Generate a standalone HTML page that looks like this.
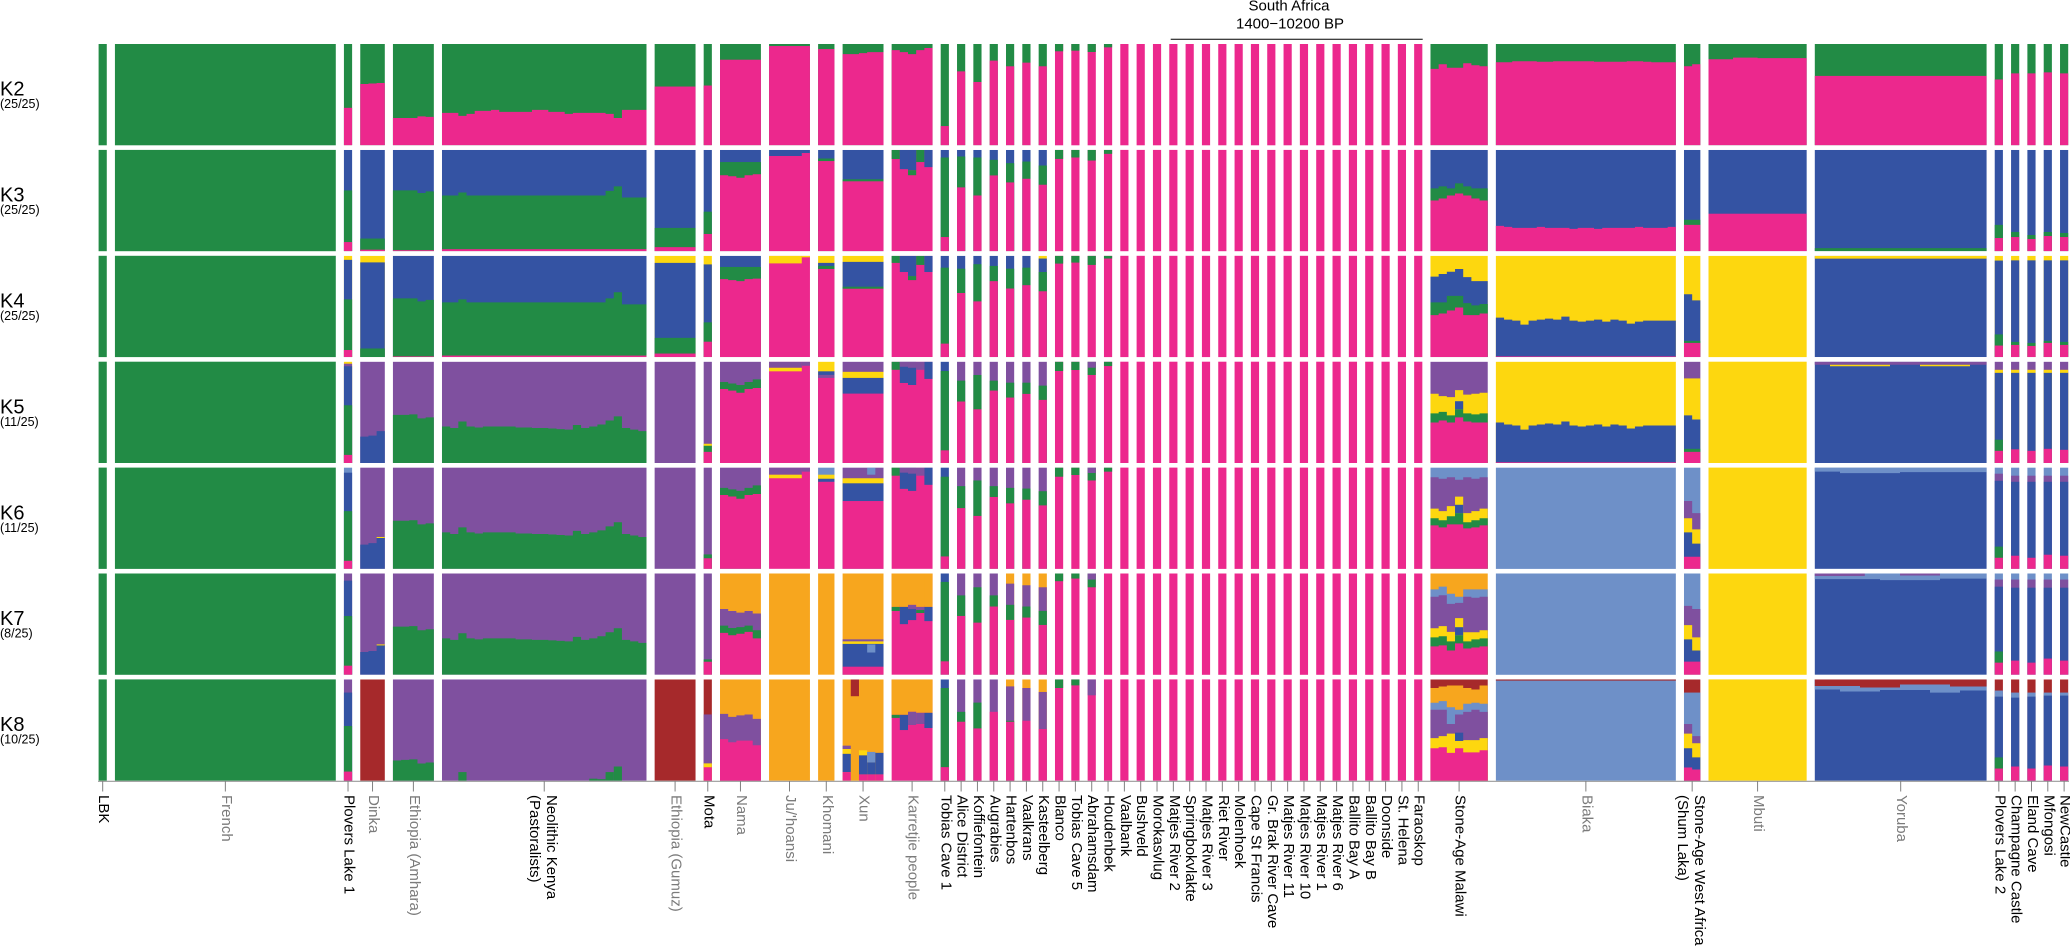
<!DOCTYPE html>
<html><head><meta charset="utf-8"><style>
html,body{margin:0;padding:0;background:#fff;}
svg{display:block;font-family:"Liberation Sans",Arial,sans-serif;}
.g{fill:#228B45}.p{fill:#EC288D}.b{fill:#3453A3}.y{fill:#FDD70F}.u{fill:#7F509F}.l{fill:#6E90C8}.o{fill:#F7A61E}.r{fill:#A6292B}
.k{fill:#000}.m{fill:#7b7b7b}
</style></head><body>
<svg width="2070" height="948" viewBox="0 0 2070 948" xmlns="http://www.w3.org/2000/svg">
<!-- tall uniform columns -->
<rect class="g" x="98.6" y="44" width="8.18" height="736.7"/>
<rect class="g" x="114.93" y="44" width="220.86" height="736.7"/>
<rect class="p" x="1054.98" y="44" width="8.18" height="736.7"/>
<rect class="p" x="1071.31" y="44" width="8.18" height="736.7"/>
<rect class="p" x="1087.63" y="44" width="8.18" height="736.7"/>
<rect class="p" x="1103.96" y="44" width="8.18" height="736.7"/>
<rect class="p" x="1120.29" y="44" width="8.18" height="736.7"/>
<rect class="p" x="1136.61" y="44" width="8.18" height="736.7"/>
<rect class="p" x="1152.94" y="44" width="8.18" height="736.7"/>
<rect class="p" x="1169.26" y="44" width="8.18" height="736.7"/>
<rect class="p" x="1185.59" y="44" width="8.18" height="736.7"/>
<rect class="p" x="1201.92" y="44" width="8.18" height="736.7"/>
<rect class="p" x="1218.24" y="44" width="8.18" height="736.7"/>
<rect class="p" x="1234.57" y="44" width="8.18" height="736.7"/>
<rect class="p" x="1250.89" y="44" width="8.18" height="736.7"/>
<rect class="p" x="1267.22" y="44" width="8.18" height="736.7"/>
<rect class="p" x="1283.55" y="44" width="8.18" height="736.7"/>
<rect class="p" x="1299.87" y="44" width="8.18" height="736.7"/>
<rect class="p" x="1316.2" y="44" width="8.18" height="736.7"/>
<rect class="p" x="1332.52" y="44" width="8.18" height="736.7"/>
<rect class="p" x="1348.85" y="44" width="8.18" height="736.7"/>
<rect class="p" x="1365.18" y="44" width="8.18" height="736.7"/>
<rect class="p" x="1381.5" y="44" width="8.18" height="736.7"/>
<rect class="p" x="1397.83" y="44" width="8.18" height="736.7"/>
<rect class="p" x="1414.15" y="44" width="8.18" height="736.7"/>
<rect class="y" x="1708.5" y="255.8" width="98.16" height="524.9"/>
<rect class="l" x="1495.88" y="467.6" width="179.96" height="313.1"/>

<!-- K2 -->
<g transform="translate(0,44) scale(1,1.013)">
<rect class="g" x="343.93" width="8.18" height="100"/><rect class="p" x="343.93" y="63" width="8.18" height="37"/>
<rect class="g" x="360.26" width="24.54" height="100"/><path class="p" d="M360.26 100V39.5H368.44V39H376.62V38.5H384.8V100Z"/>
<rect class="g" x="392.94" width="40.9" height="100"/><path class="p" d="M392.94 100V73H417.48V71.5H425.66V72H433.84V100Z"/>
<rect class="g" x="441.99" width="204.5" height="100"/><path class="p" d="M441.99 100V68H458.35V71H466.53V69H474.71V66H491.07V65H499.25V67H531.97V65H548.33V67H564.69V69H572.87V68H605.59V69H613.77V73H621.95V65H646.49V100Z"/>
<rect class="g" x="654.64" width="40.9" height="100"/><rect class="p" x="654.64" y="42" width="40.9" height="58"/>
<rect class="g" x="703.68" width="8.18" height="100"/><rect class="p" x="703.68" y="41" width="8.18" height="59"/>
<rect class="g" x="720.01" width="40.9" height="100"/><rect class="p" x="720.01" y="15.5" width="40.9" height="84.5"/>
<rect class="g" x="769.05" width="40.9" height="100"/><rect class="p" x="769.05" y="2" width="40.9" height="98"/>
<rect class="g" x="818.1" width="16.36" height="100"/><rect class="p" x="818.1" y="5" width="16.36" height="95"/>
<rect class="g" x="842.61" width="40.9" height="100"/><path class="p" d="M842.61 100V10H858.97V9H867.15V8H883.51V100Z"/>
<rect class="g" x="891.65" width="40.9" height="100"/><path class="p" d="M891.65 100V6H899.83V8H908.01V10H916.19V6H924.37V4H932.55V100Z"/>
<rect class="g" x="940.7" width="8.18" height="100"/><rect class="p" x="940.7" y="81" width="8.18" height="19"/>
<rect class="g" x="957.03" width="8.18" height="100"/><rect class="p" x="957.03" y="27" width="8.18" height="73"/>
<rect class="g" x="973.35" width="8.18" height="100"/><rect class="p" x="973.35" y="37.5" width="8.18" height="62.5"/>
<rect class="g" x="989.68" width="8.18" height="100"/><rect class="p" x="989.68" y="16.4" width="8.18" height="83.6"/>
<rect class="g" x="1006" width="8.18" height="100"/><rect class="p" x="1006" y="22" width="8.18" height="78"/>
<rect class="g" x="1022.33" width="8.18" height="100"/><rect class="p" x="1022.33" y="18.4" width="8.18" height="81.6"/>
<rect class="g" x="1038.66" width="8.18" height="100"/><rect class="p" x="1038.66" y="22" width="8.18" height="78"/>
<rect class="g" x="1054.98" width="8.18" height="7.2"/>
<rect class="g" x="1071.31" width="8.18" height="6.6"/>
<rect class="g" x="1087.63" width="8.18" height="7.9"/>
<rect class="g" x="1103.96" width="8.18" height="3.3"/>
<rect class="g" x="1430.48" width="57.26" height="100"/><path class="p" d="M1430.48 100V24.5H1438.66V20H1446.84V23.5H1463.2V19H1471.38V21H1479.56V22H1487.74V100Z"/>
<rect class="g" x="1495.88" width="179.96" height="100"/><path class="p" d="M1495.88 100V18H1512.24V17H1536.78V17.5H1553.14V17H1594.04V17.5H1626.76V17H1643.12V17.5H1651.3V18H1675.84V100Z"/>
<rect class="g" x="1683.99" width="16.36" height="100"/><path class="p" d="M1683.99 100V22H1692.17V20H1700.35V100Z"/>
<rect class="g" x="1708.5" width="98.16" height="100"/><path class="p" d="M1708.5 100V15H1733.04V13.5H1757.58V14H1806.66V100Z"/>
<rect class="g" x="1814.8" width="171.78" height="100"/><rect class="p" x="1814.8" y="31.5" width="171.78" height="68.5"/>
<rect class="g" x="1994.73" width="8.18" height="100"/><rect class="p" x="1994.73" y="35" width="8.18" height="65"/>
<rect class="g" x="2011.06" width="8.18" height="100"/><rect class="p" x="2011.06" y="29" width="8.18" height="71"/>
<rect class="g" x="2027.38" width="8.18" height="100"/><rect class="p" x="2027.38" y="29" width="8.18" height="71"/>
<rect class="g" x="2043.71" width="8.18" height="100"/><rect class="p" x="2043.71" y="28" width="8.18" height="72"/>
<rect class="g" x="2060.03" width="8.18" height="100"/><rect class="p" x="2060.03" y="29" width="8.18" height="71"/>
</g>

<!-- K3 -->
<g transform="translate(0,149.9) scale(1,1.013)">
<rect class="b" x="343.93" width="8.18" height="100"/><rect class="g" x="343.93" y="40" width="8.18" height="60"/><rect class="p" x="343.93" y="91" width="8.18" height="9"/>
<rect class="b" x="360.26" width="24.54" height="100"/><rect class="g" x="360.26" y="87.5" width="24.54" height="12.5"/><rect class="p" x="360.26" y="98.5" width="24.54" height="1.5"/>
<rect class="b" x="392.94" width="40.9" height="100"/><path class="g" d="M392.94 100V40H417.48V42.5H425.66V41H433.84V100Z"/><rect class="p" x="392.94" y="99" width="40.9" height="1"/>
<rect class="b" x="441.99" width="204.5" height="100"/><path class="g" d="M441.99 100V45H458.35V42H466.53V45H605.59V40.5H613.77V36H621.95V47H646.49V100Z"/><rect class="p" x="441.99" y="98" width="204.5" height="2"/>
<rect class="b" x="654.64" width="40.9" height="100"/><rect class="g" x="654.64" y="77" width="40.9" height="23"/><rect class="p" x="654.64" y="96" width="40.9" height="4"/>
<rect class="b" x="703.68" width="8.18" height="100"/><rect class="g" x="703.68" y="61" width="8.18" height="39"/><rect class="p" x="703.68" y="83" width="8.18" height="17"/>
<rect class="b" x="720.01" width="40.9" height="100"/><rect class="g" x="720.01" y="12" width="40.9" height="88"/><path class="p" d="M720.01 100V25H728.19V26H736.37V27.5H744.55V25H752.73V24H760.91V100Z"/>
<rect class="b" x="769.05" width="40.9" height="100"/><path class="p" d="M769.05 100V6H801.77V3H809.95V100Z"/>
<rect class="b" x="818.1" width="16.36" height="100"/><rect class="g" x="818.1" y="8.5" width="16.36" height="91.5"/><rect class="p" x="818.1" y="11" width="16.36" height="89"/>
<rect class="b" x="842.61" width="40.9" height="100"/><rect class="g" x="842.61" y="29" width="40.9" height="71"/><rect class="p" x="842.61" y="31" width="40.9" height="69"/>
<rect class="p" x="891.65" width="40.9" height="100"/><rect class="g" x="891.65" width="8.18" height="9"/><rect class="b" x="899.83" width="8.18" height="19"/><rect class="b" x="908.01" width="8.18" height="20"/><rect class="g" x="908.01" y="20" width="8.18" height="5"/><rect class="g" x="916.19" width="8.18" height="12"/><rect class="b" x="924.37" width="8.18" height="17"/>
<rect class="b" x="940.7" width="8.18" height="100"/><rect class="g" x="940.7" y="7.5" width="8.18" height="92.5"/><rect class="p" x="940.7" y="86" width="8.18" height="14"/>
<rect class="b" x="957.03" width="8.18" height="100"/><rect class="g" x="957.03" y="6.5" width="8.18" height="93.5"/><rect class="p" x="957.03" y="37" width="8.18" height="63"/>
<rect class="b" x="973.35" width="8.18" height="100"/><rect class="g" x="973.35" y="7.5" width="8.18" height="92.5"/><rect class="p" x="973.35" y="45" width="8.18" height="55"/>
<rect class="b" x="989.68" width="8.18" height="100"/><rect class="g" x="989.68" y="9.8" width="8.18" height="90.2"/><rect class="p" x="989.68" y="25.2" width="8.18" height="74.8"/>
<rect class="b" x="1006" width="8.18" height="100"/><rect class="g" x="1006" y="13.1" width="8.18" height="86.9"/><rect class="p" x="1006" y="32.1" width="8.18" height="67.9"/>
<rect class="b" x="1022.33" width="8.18" height="100"/><rect class="g" x="1022.33" y="11.5" width="8.18" height="88.5"/><rect class="p" x="1022.33" y="28.5" width="8.18" height="71.5"/>
<rect class="b" x="1038.66" width="8.18" height="100"/><rect class="g" x="1038.66" y="15.4" width="8.18" height="84.6"/><rect class="p" x="1038.66" y="34.4" width="8.18" height="65.6"/>
<rect class="g" x="1054.98" width="8.18" height="8.9"/>
<rect class="g" x="1071.31" width="8.18" height="7.5"/>
<rect class="g" x="1087.63" width="8.18" height="10.5"/>
<rect class="g" x="1103.96" width="8.18" height="3.9"/>
<rect class="b" x="1430.48" width="57.26" height="100"/><path class="g" d="M1430.48 100V38H1438.66V36H1446.84V38H1455.02V33H1463.2V36H1471.38V38H1487.74V100Z"/><path class="p" d="M1430.48 100V50H1438.66V48H1446.84V45H1455.02V43H1463.2V45H1471.38V48H1479.56V50H1487.74V100Z"/>
<rect class="b" x="1495.88" width="179.96" height="100"/><path class="p" d="M1495.88 100V75H1504.06V76H1512.24V77H1536.78V76H1544.96V77H1569.5V78H1577.68V77H1594.04V78H1602.22V77H1634.94V76H1643.12V77H1667.66V76H1675.84V100Z"/>
<rect class="b" x="1683.99" width="16.36" height="100"/><rect class="g" x="1683.99" y="69" width="16.36" height="31"/><rect class="p" x="1683.99" y="74" width="16.36" height="26"/>
<rect class="b" x="1708.5" width="98.16" height="100"/><rect class="p" x="1708.5" y="63" width="98.16" height="37"/>
<rect class="b" x="1814.8" width="171.78" height="100"/><rect class="g" x="1814.8" y="97" width="171.78" height="3"/>
<rect class="b" x="1994.73" width="8.18" height="100"/><rect class="g" x="1994.73" y="74" width="8.18" height="26"/><rect class="p" x="1994.73" y="87" width="8.18" height="13"/>
<rect class="b" x="2011.06" width="8.18" height="100"/><rect class="g" x="2011.06" y="81" width="8.18" height="19"/><rect class="p" x="2011.06" y="86" width="8.18" height="14"/>
<rect class="b" x="2027.38" width="8.18" height="100"/><rect class="g" x="2027.38" y="84" width="8.18" height="16"/><rect class="p" x="2027.38" y="88" width="8.18" height="12"/>
<rect class="b" x="2043.71" width="8.18" height="100"/><rect class="g" x="2043.71" y="81" width="8.18" height="19"/><rect class="p" x="2043.71" y="85" width="8.18" height="15"/>
<rect class="b" x="2060.03" width="8.18" height="100"/><rect class="g" x="2060.03" y="82" width="8.18" height="18"/><rect class="p" x="2060.03" y="86" width="8.18" height="14"/>
</g>

<!-- K4 -->
<g transform="translate(0,255.8) scale(1,1.013)">
<rect class="y" x="343.93" width="8.18" height="100"/><rect class="b" x="343.93" y="4" width="8.18" height="96"/><rect class="g" x="343.93" y="43" width="8.18" height="57"/><rect class="p" x="343.93" y="93" width="8.18" height="7"/>
<rect class="y" x="360.26" width="24.54" height="100"/><rect class="b" x="360.26" y="6.5" width="24.54" height="93.5"/><rect class="g" x="360.26" y="91.5" width="24.54" height="8.5"/>
<rect class="b" x="392.94" width="40.9" height="100"/><path class="g" d="M392.94 100V42H417.48V45H425.66V43.5H433.84V100Z"/><rect class="p" x="392.94" y="99.3" width="40.9" height="0.7"/>
<rect class="b" x="441.99" width="204.5" height="100"/><path class="g" d="M441.99 100V46H458.35V43H466.53V46H605.59V42H613.77V36H621.95V48H646.49V100Z"/><rect class="p" x="441.99" y="98.5" width="204.5" height="1.5"/>
<rect class="y" x="654.64" width="40.9" height="100"/><rect class="b" x="654.64" y="7" width="40.9" height="93"/><rect class="g" x="654.64" y="81" width="40.9" height="19"/><rect class="p" x="654.64" y="96.5" width="40.9" height="3.5"/>
<rect class="y" x="703.68" width="8.18" height="100"/><rect class="b" x="703.68" y="8.5" width="8.18" height="91.5"/><rect class="g" x="703.68" y="65.7" width="8.18" height="34.3"/><rect class="p" x="703.68" y="84.8" width="8.18" height="15.2"/>
<rect class="b" x="720.01" width="40.9" height="100"/><rect class="g" x="720.01" y="11" width="40.9" height="89"/><path class="p" d="M720.01 100V23H728.19V24H736.37V25H744.55V23H752.73V22.5H760.91V100Z"/>
<rect class="p" x="769.05" width="40.9" height="100"/><rect class="y" x="769.05" width="32.72" height="7.5"/><rect class="y" x="801.77" width="8.18" height="1.5"/>
<rect class="y" x="818.1" width="16.36" height="100"/><rect class="b" x="818.1" y="7" width="16.36" height="93"/><rect class="g" x="818.1" y="10" width="16.36" height="90"/><rect class="p" x="818.1" y="13" width="16.36" height="87"/>
<rect class="y" x="842.61" width="40.9" height="100"/><rect class="b" x="842.61" y="6" width="40.9" height="94"/><rect class="g" x="842.61" y="30.5" width="40.9" height="69.5"/><rect class="p" x="842.61" y="32.5" width="40.9" height="67.5"/>
<rect class="p" x="891.65" width="40.9" height="100"/><rect class="g" x="891.65" width="8.18" height="7"/><rect class="b" x="899.83" width="8.18" height="16"/><rect class="b" x="908.01" width="8.18" height="20"/><rect class="g" x="908.01" y="20" width="8.18" height="4"/><rect class="g" x="916.19" width="8.18" height="9"/><rect class="b" x="924.37" width="8.18" height="16"/>
<rect class="b" x="940.7" width="8.18" height="100"/><rect class="g" x="940.7" y="11.7" width="8.18" height="88.3"/><rect class="p" x="940.7" y="86.7" width="8.18" height="13.3"/>
<rect class="b" x="957.03" width="8.18" height="100"/><rect class="g" x="957.03" y="12.7" width="8.18" height="87.3"/><rect class="p" x="957.03" y="36.7" width="8.18" height="63.3"/>
<rect class="b" x="973.35" width="8.18" height="100"/><rect class="g" x="973.35" y="8.3" width="8.18" height="91.7"/><rect class="p" x="973.35" y="45" width="8.18" height="55"/>
<rect class="b" x="989.68" width="8.18" height="100"/><rect class="g" x="989.68" y="10" width="8.18" height="90"/><rect class="p" x="989.68" y="25" width="8.18" height="75"/>
<rect class="b" x="1006" width="8.18" height="100"/><rect class="g" x="1006" y="12.7" width="8.18" height="87.3"/><rect class="p" x="1006" y="32.3" width="8.18" height="67.7"/>
<rect class="b" x="1022.33" width="8.18" height="100"/><rect class="g" x="1022.33" y="11.7" width="8.18" height="88.3"/><rect class="p" x="1022.33" y="29" width="8.18" height="71"/>
<rect class="y" x="1038.66" width="8.18" height="100"/><rect class="b" x="1038.66" y="2.7" width="8.18" height="97.3"/><rect class="g" x="1038.66" y="16" width="8.18" height="84"/><rect class="p" x="1038.66" y="35" width="8.18" height="65"/>
<rect class="g" x="1054.98" width="8.18" height="7.7"/>
<rect class="g" x="1071.31" width="8.18" height="6.7"/>
<rect class="g" x="1087.63" width="8.18" height="9"/>
<rect class="g" x="1103.96" width="8.18" height="2.7"/>
<rect class="y" x="1430.48" width="57.26" height="100"/><path class="b" d="M1430.48 100V20.5H1438.66V18H1446.84V15.7H1455.02V13H1463.2V21H1471.38V25H1487.74V100Z"/><path class="g" d="M1430.48 100V46H1446.84V39.5H1463.2V46.7H1471.38V49H1479.56V47.6H1487.74V100Z"/><path class="p" d="M1430.48 100V58.6H1438.66V57H1446.84V54H1455.02V51H1463.2V58.6H1479.56V57H1487.74V100Z"/>
<rect class="y" x="1495.88" width="179.96" height="100"/><path class="b" d="M1495.88 100V61H1504.06V63H1512.24V64H1520.42V68H1528.6V64H1536.78V63H1544.96V62H1553.14V63H1561.32V60H1569.5V64H1577.68V65H1585.86V64H1594.04V63H1602.22V65H1610.4V63H1618.58V64H1626.76V67H1634.94V65H1643.12V64H1675.84V100Z"/><rect class="p" x="1495.88" y="99.3" width="179.96" height="0.7"/>
<rect class="y" x="1683.99" width="16.36" height="100"/><path class="b" d="M1683.99 100V38H1692.17V44H1700.35V100Z"/><rect class="g" x="1683.99" y="84" width="16.36" height="16"/><rect class="p" x="1683.99" y="86" width="16.36" height="14"/>
<rect class="b" x="1814.8" width="171.78" height="100"/><rect class="y" x="1814.8" width="171.78" height="2.8"/>
<rect class="y" x="1994.73" width="8.18" height="100"/><rect class="b" x="1994.73" y="4.7" width="8.18" height="95.3"/><rect class="g" x="1994.73" y="77.6" width="8.18" height="22.4"/><rect class="p" x="1994.73" y="88.6" width="8.18" height="11.4"/>
<rect class="y" x="2011.06" width="8.18" height="100"/><rect class="b" x="2011.06" y="4.5" width="8.18" height="95.5"/><rect class="g" x="2011.06" y="85" width="8.18" height="15"/><rect class="p" x="2011.06" y="88" width="8.18" height="12"/>
<rect class="y" x="2027.38" width="8.18" height="100"/><rect class="b" x="2027.38" y="4.5" width="8.18" height="95.5"/><rect class="g" x="2027.38" y="86" width="8.18" height="14"/><rect class="p" x="2027.38" y="89" width="8.18" height="11"/>
<rect class="y" x="2043.71" width="8.18" height="100"/><rect class="b" x="2043.71" y="4.5" width="8.18" height="95.5"/><rect class="g" x="2043.71" y="84" width="8.18" height="16"/><rect class="p" x="2043.71" y="86" width="8.18" height="14"/>
<rect class="y" x="2060.03" width="8.18" height="100"/><rect class="b" x="2060.03" y="4.5" width="8.18" height="95.5"/><rect class="g" x="2060.03" y="85" width="8.18" height="15"/><rect class="p" x="2060.03" y="88" width="8.18" height="12"/>
</g>

<!-- K5 -->
<g transform="translate(0,361.7) scale(1,1.013)">
<rect class="y" x="343.93" width="8.18" height="100"/><rect class="u" x="343.93" y="2" width="8.18" height="98"/><rect class="b" x="343.93" y="4.5" width="8.18" height="95.5"/><rect class="g" x="343.93" y="43" width="8.18" height="57"/><rect class="p" x="343.93" y="92" width="8.18" height="8"/>
<rect class="u" x="360.26" width="24.54" height="100"/><path class="b" d="M360.26 100V74H368.44V73H376.62V68.5H384.8V100Z"/>
<rect class="u" x="392.94" width="40.9" height="100"/><path class="g" d="M392.94 100V52.5H409.3V52H417.48V56H425.66V55H433.84V100Z"/>
<rect class="u" x="441.99" width="204.5" height="100"/><path class="g" d="M441.99 100V64H450.17V65.5H458.35V59H466.53V64H474.71V65H482.89V64H515.61V65H531.97V65.5H548.33V66H556.51V66.5H564.69V67H572.87V62.5H581.05V65.5H589.23V64H597.41V62H605.59V58H613.77V54H621.95V65.5H630.13V67H638.31V68.5H646.49V100Z"/>
<rect class="u" x="654.64" width="40.9" height="100"/>
<rect class="u" x="703.68" width="8.18" height="100"/><rect class="y" x="703.68" y="81" width="8.18" height="19"/><rect class="g" x="703.68" y="83" width="8.18" height="17"/><rect class="p" x="703.68" y="89" width="8.18" height="11"/>
<rect class="u" x="720.01" width="40.9" height="100"/><path class="g" d="M720.01 100V20H728.19V21.5H736.37V23H744.55V20H752.73V17.5H760.91V100Z"/><path class="p" d="M720.01 100V27H728.19V28.5H736.37V30.7H744.55V27H752.73V26H760.91V100Z"/>
<rect class="p" x="769.05" width="40.9" height="100"/><rect class="u" x="769.05" width="32.72" height="6"/><rect class="y" x="769.05" y="6" width="32.72" height="3.5"/><rect class="u" x="801.77" width="8.18" height="4"/>
<rect class="y" x="818.1" width="16.36" height="100"/><rect class="b" x="818.1" y="9.5" width="16.36" height="90.5"/><rect class="u" x="818.1" y="13" width="16.36" height="87"/><rect class="p" x="818.1" y="16" width="16.36" height="84"/>
<rect class="u" x="842.61" width="40.9" height="100"/><rect class="y" x="842.61" y="10" width="40.9" height="90"/><rect class="b" x="842.61" y="16" width="40.9" height="84"/><rect class="p" x="842.61" y="31.5" width="40.9" height="68.5"/>
<rect class="p" x="891.65" width="40.9" height="100"/><rect class="g" x="891.65" width="8.18" height="8"/><rect class="b" x="899.83" width="8.18" height="21"/><rect class="u" x="899.83" width="8.18" height="5"/><rect class="b" x="908.01" width="8.18" height="23"/><rect class="u" x="908.01" width="8.18" height="6"/><rect class="u" x="916.19" width="8.18" height="8"/><rect class="b" x="924.37" width="8.18" height="17"/>
<rect class="b" x="940.7" width="8.18" height="100"/><rect class="g" x="940.7" y="9.2" width="8.18" height="90.8"/><rect class="p" x="940.7" y="87.5" width="8.18" height="12.5"/>
<rect class="u" x="957.03" width="8.18" height="100"/><rect class="g" x="957.03" y="18.7" width="8.18" height="81.3"/><rect class="p" x="957.03" y="39.3" width="8.18" height="60.7"/>
<rect class="u" x="973.35" width="8.18" height="100"/><rect class="g" x="973.35" y="13.1" width="8.18" height="86.9"/><rect class="p" x="973.35" y="47" width="8.18" height="53"/>
<rect class="u" x="989.68" width="8.18" height="100"/><rect class="g" x="989.68" y="18.7" width="8.18" height="81.3"/><rect class="p" x="989.68" y="28.5" width="8.18" height="71.5"/>
<rect class="u" x="1006" width="8.18" height="100"/><rect class="g" x="1006" y="20.7" width="8.18" height="79.3"/><rect class="p" x="1006" y="35.4" width="8.18" height="64.6"/>
<rect class="u" x="1022.33" width="8.18" height="100"/><rect class="g" x="1022.33" y="20.7" width="8.18" height="79.3"/><rect class="p" x="1022.33" y="31.8" width="8.18" height="68.2"/>
<rect class="u" x="1038.66" width="8.18" height="100"/><rect class="g" x="1038.66" y="23.6" width="8.18" height="76.4"/><rect class="p" x="1038.66" y="37.7" width="8.18" height="62.3"/>
<rect class="g" x="1054.98" width="8.18" height="9.2"/>
<rect class="g" x="1071.31" width="8.18" height="8.2"/>
<rect class="g" x="1087.63" width="8.18" height="13.1"/><rect class="u" x="1087.63" width="8.18" height="5.9"/>
<rect class="g" x="1103.96" width="8.18" height="4.3"/>
<rect class="u" x="1430.48" width="57.26" height="100"/><path class="y" d="M1430.48 100V31.6H1438.66V34H1446.84V35H1455.02V28H1463.2V32.5H1471.38V31.6H1479.56V30.7H1487.74V100Z"/><path class="g" d="M1430.48 100V51H1438.66V49.5H1446.84V53H1455.02V47H1463.2V51H1471.38V52H1479.56V51H1487.74V100Z"/><rect class="b" x="1455.02" y="39" width="8.18" height="8"/><path class="p" d="M1430.48 100V60H1438.66V58H1446.84V60H1455.02V55H1463.2V59H1471.38V60H1487.74V100Z"/>
<rect class="y" x="1495.88" width="179.96" height="100"/><path class="b" d="M1495.88 100V60H1504.06V62H1512.24V63H1520.42V67H1528.6V63H1536.78V62H1544.96V61H1553.14V62H1561.32V59H1569.5V63H1577.68V64H1585.86V63H1594.04V62H1602.22V64H1610.4V62H1618.58V63H1626.76V66H1634.94V64H1643.12V63H1675.84V100Z"/><rect class="p" x="1495.88" y="99.3" width="179.96" height="0.7"/>
<rect class="u" x="1683.99" width="16.36" height="100"/><rect class="y" x="1683.99" y="16.5" width="16.36" height="83.5"/><path class="b" d="M1683.99 100V53H1692.17V57H1700.35V100Z"/><rect class="g" x="1683.99" y="86" width="16.36" height="14"/><rect class="p" x="1683.99" y="89" width="16.36" height="11"/>
<rect class="b" x="1814.8" width="171.78" height="100"/><rect class="u" x="1814.8" width="171.78" height="3"/><rect class="y" x="1830" y="3" width="60" height="1.5"/><rect class="y" x="1920" y="3" width="50" height="1.5"/>
<rect class="u" x="1994.73" width="8.18" height="100"/><rect class="y" x="1994.73" y="8" width="8.18" height="92"/><rect class="b" x="1994.73" y="11" width="8.18" height="89"/><rect class="g" x="1994.73" y="77" width="8.18" height="23"/><rect class="p" x="1994.73" y="88" width="8.18" height="12"/>
<rect class="u" x="2011.06" width="8.18" height="100"/><rect class="y" x="2011.06" y="8" width="8.18" height="92"/><rect class="b" x="2011.06" y="11" width="8.18" height="89"/><rect class="p" x="2011.06" y="86.5" width="8.18" height="13.5"/>
<rect class="u" x="2027.38" width="8.18" height="100"/><rect class="y" x="2027.38" y="8" width="8.18" height="92"/><rect class="b" x="2027.38" y="11" width="8.18" height="89"/><rect class="p" x="2027.38" y="88" width="8.18" height="12"/>
<rect class="u" x="2043.71" width="8.18" height="100"/><rect class="y" x="2043.71" y="8" width="8.18" height="92"/><rect class="b" x="2043.71" y="11" width="8.18" height="89"/><rect class="p" x="2043.71" y="86" width="8.18" height="14"/>
<rect class="u" x="2060.03" width="8.18" height="100"/><rect class="y" x="2060.03" y="8" width="8.18" height="92"/><rect class="b" x="2060.03" y="11" width="8.18" height="89"/><rect class="p" x="2060.03" y="87" width="8.18" height="13"/>
</g>

<!-- K6 -->
<g transform="translate(0,467.6) scale(1,1.013)">
<rect class="l" x="343.93" width="8.18" height="100"/><rect class="b" x="343.93" y="5" width="8.18" height="95"/><rect class="g" x="343.93" y="43" width="8.18" height="57"/><rect class="p" x="343.93" y="92" width="8.18" height="8"/>
<rect class="u" x="360.26" width="24.54" height="100"/><path class="b" d="M360.26 100V76H368.44V74.5H376.62V69H384.8V100Z"/><rect class="y" x="376.62" y="68.5" width="8.18" height="1"/>
<rect class="u" x="392.94" width="40.9" height="100"/><path class="g" d="M392.94 100V52.5H409.3V52H417.48V56H425.66V55H433.84V100Z"/>
<rect class="u" x="441.99" width="204.5" height="100"/><path class="g" d="M441.99 100V64H450.17V65.5H458.35V59H466.53V64H474.71V65H482.89V64H515.61V65H531.97V65.5H548.33V66H556.51V66.5H564.69V67H572.87V62.5H581.05V65.5H589.23V64H597.41V62H605.59V58H613.77V54H621.95V65.5H630.13V67H638.31V68.5H646.49V100Z"/>
<rect class="u" x="654.64" width="40.9" height="100"/>
<rect class="u" x="703.68" width="8.18" height="100"/><rect class="g" x="703.68" y="85.7" width="8.18" height="14.3"/><rect class="p" x="703.68" y="89.5" width="8.18" height="10.5"/>
<rect class="u" x="720.01" width="40.9" height="100"/><path class="g" d="M720.01 100V20H728.19V21.5H736.37V23H744.55V20H752.73V17.5H760.91V100Z"/><path class="p" d="M720.01 100V27H728.19V28.5H736.37V30.7H744.55V27H752.73V26H760.91V100Z"/>
<rect class="p" x="769.05" width="40.9" height="100"/><rect class="u" x="769.05" width="32.72" height="7"/><rect class="y" x="769.05" y="7" width="32.72" height="3.5"/><rect class="u" x="801.77" width="8.18" height="4"/>
<rect class="l" x="818.1" width="16.36" height="100"/><rect class="y" x="818.1" y="7" width="16.36" height="93"/><rect class="b" x="818.1" y="11" width="16.36" height="89"/><rect class="p" x="818.1" y="14" width="16.36" height="86"/>
<rect class="u" x="842.61" width="40.9" height="100"/><rect class="y" x="842.61" y="10.5" width="40.9" height="89.5"/><rect class="b" x="842.61" y="15.5" width="40.9" height="84.5"/><rect class="p" x="842.61" y="33" width="40.9" height="67"/><rect class="l" x="867.15" width="8.18" height="7"/>
<rect class="p" x="891.65" width="40.9" height="100"/><rect class="g" x="891.65" width="8.18" height="8"/><rect class="b" x="899.83" width="8.18" height="21"/><rect class="u" x="899.83" width="8.18" height="5"/><rect class="b" x="908.01" width="8.18" height="23"/><rect class="u" x="908.01" width="8.18" height="6"/><rect class="u" x="916.19" width="8.18" height="8"/><rect class="b" x="924.37" width="8.18" height="17"/>
<rect class="b" x="940.7" width="8.18" height="100"/><rect class="g" x="940.7" y="9" width="8.18" height="91"/><rect class="p" x="940.7" y="87.7" width="8.18" height="12.3"/>
<rect class="u" x="957.03" width="8.18" height="100"/><rect class="g" x="957.03" y="18.3" width="8.18" height="81.7"/><rect class="p" x="957.03" y="40" width="8.18" height="60"/>
<rect class="u" x="973.35" width="8.18" height="100"/><rect class="g" x="973.35" y="12.7" width="8.18" height="87.3"/><rect class="p" x="973.35" y="47.7" width="8.18" height="52.3"/>
<rect class="u" x="989.68" width="8.18" height="100"/><rect class="g" x="989.68" y="18.3" width="8.18" height="81.7"/><rect class="p" x="989.68" y="29" width="8.18" height="71"/>
<rect class="u" x="1006" width="8.18" height="100"/><rect class="g" x="1006" y="20" width="8.18" height="80"/><rect class="p" x="1006" y="35.3" width="8.18" height="64.7"/>
<rect class="u" x="1022.33" width="8.18" height="100"/><rect class="g" x="1022.33" y="20.7" width="8.18" height="79.3"/><rect class="p" x="1022.33" y="31.7" width="8.18" height="68.3"/>
<rect class="u" x="1038.66" width="8.18" height="100"/><rect class="g" x="1038.66" y="23.3" width="8.18" height="76.7"/><rect class="p" x="1038.66" y="37.3" width="8.18" height="62.7"/>
<rect class="g" x="1054.98" width="8.18" height="9"/>
<rect class="g" x="1071.31" width="8.18" height="7.3"/>
<rect class="g" x="1087.63" width="8.18" height="12.7"/><rect class="u" x="1087.63" width="8.18" height="5.3"/>
<rect class="g" x="1103.96" width="8.18" height="4"/>
<rect class="l" x="1430.48" width="57.26" height="100"/><path class="u" d="M1430.48 100V9.5H1438.66V11H1446.84V9.5H1455.02V12H1463.2V9.5H1471.38V11H1479.56V9.5H1487.74V100Z"/><path class="y" d="M1430.48 100V40.5H1438.66V43H1446.84V38H1455.02V28.6H1463.2V45H1471.38V43H1479.56V40.5H1487.74V100Z"/><path class="g" d="M1430.48 100V50H1438.66V52H1446.84V48H1455.02V45H1463.2V54H1471.38V52H1479.56V50H1487.74V100Z"/><rect class="b" x="1455.02" y="36.7" width="8.18" height="8.3"/><path class="p" d="M1430.48 100V57H1438.66V59H1446.84V56H1463.2V60H1471.38V59H1479.56V57H1487.74V100Z"/>
<rect class="l" x="1683.99" width="16.36" height="100"/><path class="u" d="M1683.99 100V33H1692.17V45H1700.35V100Z"/><path class="y" d="M1683.99 100V50H1692.17V61H1700.35V100Z"/><path class="b" d="M1683.99 100V64H1692.17V75H1700.35V100Z"/><rect class="p" x="1683.99" y="88" width="16.36" height="12"/>
<rect class="b" x="1814.8" width="171.78" height="100"/><path class="l" d="M1814.8 0H1986.58V4.5H1900V5.5H1840V4H1814.8Z"/>
<rect class="l" x="1994.73" width="8.18" height="100"/><rect class="u" x="1994.73" y="6" width="8.18" height="94"/><rect class="b" x="1994.73" y="13" width="8.18" height="87"/><rect class="g" x="1994.73" y="78" width="8.18" height="22"/><rect class="p" x="1994.73" y="89" width="8.18" height="11"/>
<rect class="l" x="2011.06" width="8.18" height="100"/><rect class="u" x="2011.06" y="8" width="8.18" height="92"/><rect class="b" x="2011.06" y="14" width="8.18" height="86"/><rect class="p" x="2011.06" y="87" width="8.18" height="13"/>
<rect class="l" x="2027.38" width="8.18" height="100"/><rect class="u" x="2027.38" y="8" width="8.18" height="92"/><rect class="b" x="2027.38" y="14" width="8.18" height="86"/><rect class="p" x="2027.38" y="89" width="8.18" height="11"/>
<rect class="l" x="2043.71" width="8.18" height="100"/><rect class="u" x="2043.71" y="8" width="8.18" height="92"/><rect class="b" x="2043.71" y="14" width="8.18" height="86"/><rect class="p" x="2043.71" y="86" width="8.18" height="14"/>
<rect class="l" x="2060.03" width="8.18" height="100"/><rect class="u" x="2060.03" y="8" width="8.18" height="92"/><rect class="b" x="2060.03" y="14" width="8.18" height="86"/><rect class="p" x="2060.03" y="87" width="8.18" height="13"/>
</g>

<!-- K7 -->
<g transform="translate(0,573.5) scale(1,1.013)">
<rect class="u" x="343.93" width="8.18" height="100"/><rect class="b" x="343.93" y="7" width="8.18" height="93"/><rect class="g" x="343.93" y="42" width="8.18" height="58"/><rect class="p" x="343.93" y="91" width="8.18" height="9"/>
<rect class="u" x="360.26" width="24.54" height="100"/><path class="b" d="M360.26 100V77.5H368.44V76.5H376.62V70.5H384.8V100Z"/><rect class="y" x="376.62" y="70" width="8.18" height="1"/>
<rect class="u" x="392.94" width="40.9" height="100"/><path class="g" d="M392.94 100V52.5H409.3V52H417.48V56H425.66V55H433.84V100Z"/>
<rect class="u" x="441.99" width="204.5" height="100"/><path class="g" d="M441.99 100V64H450.17V65.5H458.35V59H466.53V64H474.71V65H482.89V64H515.61V65H531.97V65.5H548.33V66H556.51V66.5H564.69V67H572.87V62.5H581.05V65.5H589.23V64H597.41V62H605.59V58H613.77V54H621.95V65.5H630.13V67H638.31V68.5H646.49V100Z"/>
<rect class="u" x="654.64" width="40.9" height="100"/>
<rect class="u" x="703.68" width="8.18" height="100"/><rect class="g" x="703.68" y="84.8" width="8.18" height="15.2"/><rect class="p" x="703.68" y="87.1" width="8.18" height="12.9"/>
<rect class="o" x="720.01" width="40.9" height="100"/><path class="u" d="M720.01 100V35H728.19V37H736.37V38.6H744.55V37H752.73V39.5H760.91V100Z"/><path class="g" d="M720.01 100V51.4H728.19V53.8H736.37V52.9H744.55V51.4H752.73V56H760.91V100Z"/><path class="p" d="M720.01 100V58.6H728.19V61H736.37V59.5H744.55V57.6H752.73V64H760.91V100Z"/>
<rect class="o" x="769.05" width="40.9" height="100"/>
<rect class="o" x="818.1" width="16.36" height="100"/>
<rect class="o" x="842.61" width="40.9" height="100"/><rect class="u" x="842.61" y="65" width="40.9" height="35"/><rect class="y" x="842.61" y="67" width="40.9" height="33"/><rect class="b" x="842.61" y="69.5" width="40.9" height="30.5"/><rect class="l" x="867.15" y="70" width="8.18" height="8"/><rect class="p" x="842.61" y="92" width="40.9" height="8"/>
<rect class="p" x="891.65" width="40.9" height="100"/><rect class="o" x="891.65" width="40.9" height="31"/><rect class="o" x="891.65" width="8.18" height="33"/><rect class="g" x="891.65" y="33" width="8.18" height="4"/><rect class="o" x="899.83" width="8.18" height="33"/><rect class="b" x="899.83" y="33" width="8.18" height="17"/><rect class="u" x="908.01" y="31" width="8.18" height="4"/><rect class="b" x="908.01" y="35" width="8.18" height="11"/><rect class="o" x="916.19" width="8.18" height="33"/><rect class="u" x="916.19" y="33" width="8.18" height="3"/><rect class="g" x="916.19" y="36" width="8.18" height="3"/><rect class="o" x="924.37" width="8.18" height="33"/><rect class="b" x="924.37" y="33" width="8.18" height="14"/>
<rect class="b" x="940.7" width="8.18" height="100"/><rect class="g" x="940.7" y="8.3" width="8.18" height="91.7"/><rect class="p" x="940.7" y="86.7" width="8.18" height="13.3"/>
<rect class="u" x="957.03" width="8.18" height="100"/><rect class="g" x="957.03" y="21.6" width="8.18" height="78.4"/><rect class="p" x="957.03" y="41.9" width="8.18" height="58.1"/>
<rect class="u" x="973.35" width="8.18" height="100"/><rect class="g" x="973.35" y="13.6" width="8.18" height="86.4"/><rect class="p" x="973.35" y="48.5" width="8.18" height="51.5"/>
<rect class="u" x="989.68" width="8.18" height="100"/><rect class="g" x="989.68" y="21.6" width="8.18" height="78.4"/><rect class="p" x="989.68" y="32.6" width="8.18" height="67.4"/>
<rect class="o" x="1006" width="8.18" height="100"/><rect class="u" x="1006" y="10" width="8.18" height="90"/><rect class="g" x="1006" y="30.9" width="8.18" height="69.1"/><rect class="p" x="1006" y="45.8" width="8.18" height="54.2"/>
<rect class="o" x="1022.33" width="8.18" height="100"/><rect class="u" x="1022.33" y="11.6" width="8.18" height="88.4"/><rect class="g" x="1022.33" y="32.6" width="8.18" height="67.4"/><rect class="p" x="1022.33" y="43.5" width="8.18" height="56.5"/>
<rect class="o" x="1038.66" width="8.18" height="100"/><rect class="u" x="1038.66" y="13.6" width="8.18" height="86.4"/><rect class="g" x="1038.66" y="36.9" width="8.18" height="63.1"/><rect class="p" x="1038.66" y="50.8" width="8.18" height="49.2"/>
<rect class="g" x="1054.98" width="8.18" height="7.6"/>
<rect class="g" x="1071.31" width="8.18" height="5"/>
<rect class="g" x="1087.63" width="8.18" height="13.6"/><rect class="u" x="1087.63" width="8.18" height="6"/>
<rect class="o" x="1430.48" width="57.26" height="100"/><path class="l" d="M1430.48 100V15.7H1438.66V13H1446.84V20H1455.02V23H1463.2V15.7H1487.74V100Z"/><path class="u" d="M1430.48 100V23H1438.66V21.5H1446.84V30H1455.02V29H1463.2V23H1471.38V24H1479.56V23H1487.74V100Z"/><path class="y" d="M1430.48 100V54H1438.66V52H1446.84V57.6H1455.02V44H1463.2V58H1479.56V56H1487.74V100Z"/><path class="g" d="M1430.48 100V63H1438.66V62H1446.84V67H1455.02V61H1463.2V67H1471.38V65H1479.56V64H1487.74V100Z"/><rect class="b" x="1455.02" y="53" width="8.18" height="8"/><path class="p" d="M1430.48 100V72H1438.66V71H1446.84V76H1455.02V69H1463.2V74H1471.38V73H1479.56V72H1487.74V100Z"/>
<rect class="l" x="1683.99" width="16.36" height="100"/><path class="u" d="M1683.99 100V32H1692.17V35H1700.35V100Z"/><path class="y" d="M1683.99 100V51H1692.17V63H1700.35V100Z"/><path class="b" d="M1683.99 100V65H1692.17V76H1700.35V100Z"/><rect class="p" x="1683.99" y="87" width="16.36" height="13"/>
<rect class="b" x="1814.8" width="171.78" height="100"/><path class="l" d="M1814.8 0H1986.58V5H1940V6.5H1880V5.5H1814.8Z"/><rect class="u" x="1814.8" width="50" height="2.5"/><rect class="u" x="1900" width="40" height="2"/>
<rect class="l" x="1994.73" width="8.18" height="100"/><rect class="u" x="1994.73" y="6" width="8.18" height="94"/><rect class="b" x="1994.73" y="13" width="8.18" height="87"/><rect class="g" x="1994.73" y="77" width="8.18" height="23"/><rect class="p" x="1994.73" y="88" width="8.18" height="12"/>
<rect class="l" x="2011.06" width="8.18" height="100"/><rect class="u" x="2011.06" y="6" width="8.18" height="94"/><rect class="b" x="2011.06" y="14" width="8.18" height="86"/><rect class="p" x="2011.06" y="86" width="8.18" height="14"/>
<rect class="l" x="2027.38" width="8.18" height="100"/><rect class="u" x="2027.38" y="6" width="8.18" height="94"/><rect class="b" x="2027.38" y="14" width="8.18" height="86"/><rect class="p" x="2027.38" y="88" width="8.18" height="12"/>
<rect class="l" x="2043.71" width="8.18" height="100"/><rect class="u" x="2043.71" y="6" width="8.18" height="94"/><rect class="b" x="2043.71" y="14" width="8.18" height="86"/><rect class="p" x="2043.71" y="84" width="8.18" height="16"/>
<rect class="l" x="2060.03" width="8.18" height="100"/><rect class="u" x="2060.03" y="6" width="8.18" height="94"/><rect class="b" x="2060.03" y="14" width="8.18" height="86"/><rect class="p" x="2060.03" y="86" width="8.18" height="14"/>
</g>

<!-- K8 -->
<g transform="translate(0,679.4) scale(1,1.013)">
<rect class="u" x="343.93" width="8.18" height="100"/><rect class="b" x="343.93" y="13" width="8.18" height="87"/><rect class="g" x="343.93" y="46" width="8.18" height="54"/><rect class="p" x="343.93" y="91" width="8.18" height="9"/>
<rect class="r" x="360.26" width="24.54" height="100"/>
<rect class="u" x="392.94" width="40.9" height="100"/><path class="g" d="M392.94 100V80H401.12V79.5H409.3V79H417.48V83H425.66V82H433.84V100Z"/>
<rect class="u" x="441.99" width="204.5" height="100"/><rect class="g" x="458.35" y="91.5" width="8.18" height="8.5"/><rect class="g" x="589.23" y="98" width="8.18" height="2"/><rect class="g" x="597.41" y="98.5" width="8.18" height="1.5"/><rect class="g" x="605.59" y="91.5" width="8.18" height="8.5"/><rect class="g" x="613.77" y="86" width="8.18" height="14"/>
<rect class="r" x="654.64" width="40.9" height="100"/>
<rect class="r" x="703.68" width="8.18" height="100"/><rect class="u" x="703.68" y="34.6" width="8.18" height="65.4"/><rect class="y" x="703.68" y="82.9" width="8.18" height="17.1"/><rect class="p" x="703.68" y="86.7" width="8.18" height="13.3"/>
<rect class="o" x="720.01" width="40.9" height="100"/><path class="u" d="M720.01 100V34H728.19V37H736.37V35.5H744.55V34.6H752.73V39H760.91V100Z"/><path class="p" d="M720.01 100V59H728.19V62H736.37V60.5H752.73V65H760.91V100Z"/>
<rect class="o" x="769.05" width="40.9" height="100"/>
<rect class="o" x="818.1" width="16.36" height="100"/>
<rect class="o" x="842.61" width="40.9" height="100"/><rect class="u" x="842.61" y="65.4" width="8.18" height="3.3"/><rect class="y" x="842.61" y="68.7" width="8.18" height="4.8"/><rect class="b" x="842.61" y="73.5" width="8.18" height="18"/><rect class="p" x="842.61" y="91.5" width="8.18" height="8.5"/><rect class="r" x="850.79" width="8.18" height="16.6"/><rect class="y" x="858.97" y="70" width="8.18" height="5"/><rect class="b" x="858.97" y="75" width="8.18" height="18.8"/><rect class="p" x="858.97" y="93.8" width="8.18" height="6.2"/><rect class="l" x="867.15" y="71.6" width="8.18" height="10.4"/><rect class="b" x="867.15" y="82" width="8.18" height="11.8"/><rect class="p" x="867.15" y="93.8" width="8.18" height="6.2"/><rect class="b" x="875.33" y="72.5" width="8.18" height="21.3"/><rect class="p" x="875.33" y="93.8" width="8.18" height="6.2"/>
<rect class="p" x="891.65" width="40.9" height="100"/><rect class="o" x="891.65" width="40.9" height="32"/><rect class="o" x="891.65" width="16.36" height="35"/><rect class="g" x="891.65" y="35" width="8.18" height="3"/><rect class="b" x="899.83" y="35" width="8.18" height="15"/><rect class="u" x="908.01" y="32" width="8.18" height="13"/><rect class="o" x="916.19" width="16.36" height="33"/><rect class="u" x="916.19" y="33" width="8.18" height="11"/><rect class="b" x="924.37" y="33" width="8.18" height="15"/>
<rect class="b" x="940.7" width="8.18" height="100"/><rect class="g" x="940.7" y="8.5" width="8.18" height="91.5"/><rect class="p" x="940.7" y="86.6" width="8.18" height="13.4"/>
<rect class="u" x="957.03" width="8.18" height="100"/><rect class="g" x="957.03" y="32" width="8.18" height="68"/><rect class="p" x="957.03" y="41.8" width="8.18" height="58.2"/>
<rect class="u" x="973.35" width="8.18" height="100"/><rect class="g" x="973.35" y="22.9" width="8.18" height="77.1"/><rect class="p" x="973.35" y="48.4" width="8.18" height="51.6"/>
<rect class="u" x="989.68" width="8.18" height="100"/><rect class="p" x="989.68" y="32" width="8.18" height="68"/>
<rect class="o" x="1006" width="8.18" height="100"/><rect class="u" x="1006" y="6.9" width="8.18" height="93.1"/><rect class="g" x="1006" y="40.8" width="8.18" height="59.2"/><rect class="p" x="1006" y="41.8" width="8.18" height="58.2"/>
<rect class="o" x="1022.33" width="8.18" height="100"/><rect class="u" x="1022.33" y="8.5" width="8.18" height="91.5"/><rect class="p" x="1022.33" y="40.8" width="8.18" height="59.2"/>
<rect class="o" x="1038.66" width="8.18" height="100"/><rect class="u" x="1038.66" y="12.4" width="8.18" height="87.6"/><rect class="p" x="1038.66" y="49" width="8.18" height="51"/>
<rect class="g" x="1054.98" width="8.18" height="8.5"/>
<rect class="g" x="1071.31" width="8.18" height="5.9"/>
<rect class="u" x="1087.63" width="8.18" height="15.7"/>
<rect class="r" x="1430.48" width="57.26" height="100"/><path class="o" d="M1430.48 100V8.5H1438.66V7H1446.84V6H1463.2V8.5H1471.38V10H1479.56V6H1487.74V100Z"/><path class="l" d="M1430.48 100V23H1438.66V21.5H1446.84V27.5H1455.02V30H1463.2V24H1471.38V23H1479.56V24H1487.74V100Z"/><path class="u" d="M1430.48 100V30H1446.84V44H1455.02V34.6H1463.2V32H1471.38V30H1479.56V32H1487.74V100Z"/><path class="y" d="M1430.48 100V58H1438.66V56H1446.84V53.5H1455.02V60.7H1463.2V60H1479.56V58H1487.74V100Z"/><rect class="b" x="1455.02" y="52.6" width="8.18" height="8.1"/><path class="p" d="M1430.48 100V68H1438.66V67H1446.84V72.5H1455.02V68H1463.2V72H1479.56V70H1487.74V100Z"/>
<rect class="r" x="1495.88" width="179.96" height="1.2"/>
<rect class="r" x="1683.99" width="16.36" height="100"/><rect class="l" x="1683.99" y="13" width="16.36" height="87"/><path class="u" d="M1683.99 100V44H1692.17V56H1700.35V100Z"/><path class="y" d="M1683.99 100V53.5H1692.17V63H1700.35V100Z"/><path class="b" d="M1683.99 100V68H1692.17V77H1700.35V100Z"/><path class="p" d="M1683.99 100V87H1692.17V89H1700.35V100Z"/>
<rect class="b" x="1814.8" width="171.78" height="100"/><path class="l" d="M1814.8 0H1986.58V11H1960V13H1930V10.5H1880V12H1840V10H1814.8Z"/><path class="r" d="M1814.8 0H1986.58V7H1950V5H1900V8H1860V6.5H1814.8Z"/>
<rect class="r" x="1994.73" width="8.18" height="100"/><rect class="l" x="1994.73" y="11" width="8.18" height="89"/><rect class="b" x="1994.73" y="17" width="8.18" height="83"/><rect class="g" x="1994.73" y="77" width="8.18" height="23"/><rect class="p" x="1994.73" y="88" width="8.18" height="12"/>
<rect class="r" x="2011.06" width="8.18" height="100"/><rect class="l" x="2011.06" y="13" width="8.18" height="87"/><rect class="b" x="2011.06" y="18" width="8.18" height="82"/><rect class="p" x="2011.06" y="86" width="8.18" height="14"/>
<rect class="r" x="2027.38" width="8.18" height="100"/><rect class="l" x="2027.38" y="13" width="8.18" height="87"/><rect class="b" x="2027.38" y="17" width="8.18" height="83"/><rect class="p" x="2027.38" y="88" width="8.18" height="12"/>
<rect class="r" x="2043.71" width="8.18" height="100"/><rect class="l" x="2043.71" y="13" width="8.18" height="87"/><rect class="b" x="2043.71" y="16" width="8.18" height="84"/><rect class="p" x="2043.71" y="85" width="8.18" height="15"/>
<rect class="r" x="2060.03" width="8.18" height="100"/><rect class="l" x="2060.03" y="13" width="8.18" height="87"/><rect class="b" x="2060.03" y="16" width="8.18" height="84"/><rect class="p" x="2060.03" y="86" width="8.18" height="14"/>
</g>

<!-- white row gaps -->
<g fill="#fff">
<rect x="0" y="145.3" width="2070" height="4.6"/>
<rect x="0" y="251.2" width="2070" height="4.6"/>
<rect x="0" y="357.1" width="2070" height="4.6"/>
<rect x="0" y="463.0" width="2070" height="4.6"/>
<rect x="0" y="568.9" width="2070" height="4.6"/>
<rect x="0" y="674.8" width="2070" height="4.6"/>
</g>

<!-- K labels -->
<g class="k">
<text x="0" y="95.7" font-size="20">K2</text><text x="0" y="108.2" font-size="12.5">(25/25)</text>
<text x="0" y="201.6" font-size="20">K3</text><text x="0" y="214.1" font-size="12.5">(25/25)</text>
<text x="0" y="307.5" font-size="20">K4</text><text x="0" y="320" font-size="12.5">(25/25)</text>
<text x="0" y="413.4" font-size="20">K5</text><text x="0" y="425.9" font-size="12.5">(11/25)</text>
<text x="0" y="519.3" font-size="20">K6</text><text x="0" y="531.8" font-size="12.5">(11/25)</text>
<text x="0" y="625.2" font-size="20">K7</text><text x="0" y="637.7" font-size="12.5">(8/25)</text>
<text x="0" y="731.1" font-size="20">K8</text><text x="0" y="743.6" font-size="12.5">(10/25)</text>
</g>

<!-- header -->
<text x="1289" y="10.5" font-size="15" text-anchor="middle" class="k">South Africa</text>
<text x="1290" y="28.3" font-size="15" text-anchor="middle" class="k">1400−10200 BP</text>
<line x1="1170.7" y1="39.2" x2="1422.7" y2="39.2" stroke="#000" stroke-width="1"/>

<!-- axis & ticks -->
<line x1="98" y1="781.3" x2="2069" y2="781.3" stroke="#999" stroke-width="1.2"/>
<path stroke="#808080" stroke-width="1" fill="none" d="M102.69 781V791.5M225.36 781V791.5M348.02 781V791.5M372.53 781V791.5M413.39 781V791.5M544.24 781V791.5M675.09 781V791.5M707.77 781V791.5M740.46 781V791.5M789.5 781V791.5M826.28 781V791.5M863.06 781V791.5M912.1 781V791.5M944.79 781V791.5M961.12 781V791.5M977.44 781V791.5M993.77 781V791.5M1010.09 781V791.5M1026.42 781V791.5M1042.75 781V791.5M1059.07 781V791.5M1075.4 781V791.5M1091.72 781V791.5M1108.05 781V791.5M1124.38 781V791.5M1140.7 781V791.5M1157.03 781V791.5M1173.35 781V791.5M1189.68 781V791.5M1206.01 781V791.5M1222.33 781V791.5M1238.66 781V791.5M1254.98 781V791.5M1271.31 781V791.5M1287.64 781V791.5M1303.96 781V791.5M1320.29 781V791.5M1336.61 781V791.5M1352.94 781V791.5M1369.27 781V791.5M1385.59 781V791.5M1401.92 781V791.5M1418.24 781V791.5M1459.11 781V791.5M1585.86 781V791.5M1692.17 781V791.5M1757.58 781V791.5M1900.69 781V791.5M1998.82 781V791.5M2015.15 781V791.5M2031.47 781V791.5M2047.8 781V791.5M2064.12 781V791.5"/>

<!-- bottom labels -->
<g font-size="15">
<text class="k" transform="translate(99.2,795) rotate(90)">LBK</text>
<text class="m" transform="translate(221.9,795) rotate(90)">French</text>
<text class="k" transform="translate(344.5,795) rotate(90)">Plovers Lake 1</text>
<text class="m" transform="translate(369,795) rotate(90)">Dinka</text>
<text class="m" transform="translate(409.9,795) rotate(90)">Ethiopia (Amhara)</text>
<text class="k" transform="translate(547.2,795) rotate(90)">Neolithic Kenya<tspan x="0" dy="17">(Pastoralists)</tspan></text>
<text class="m" transform="translate(671.6,795) rotate(90)">Ethiopia (Gumuz)</text>
<text class="k" transform="translate(704.3,795) rotate(90)">Mota</text>
<text class="m" transform="translate(737,795) rotate(90)">Nama</text>
<text class="m" transform="translate(786,795) rotate(90)">Ju/'hoansi</text>
<text class="m" transform="translate(822.8,795) rotate(90)">Khomani</text>
<text class="m" transform="translate(859.6,795) rotate(90)">Xun</text>
<text class="m" transform="translate(908.6,795) rotate(90)">Karretjie people</text>
<text class="k" transform="translate(941.3,795) rotate(90)">Tobias Cave 1</text>
<text class="k" transform="translate(957.6,795) rotate(90)">Alice District</text>
<text class="k" transform="translate(973.9,795) rotate(90)">Koffiefontein</text>
<text class="k" transform="translate(990.3,795) rotate(90)">Augrabies</text>
<text class="k" transform="translate(1006.6,795) rotate(90)">Hartenbos</text>
<text class="k" transform="translate(1022.9,795) rotate(90)">Vaalkrans</text>
<text class="k" transform="translate(1039.2,795) rotate(90)">Kasteelberg</text>
<text class="k" transform="translate(1055.6,795) rotate(90)">Blanco</text>
<text class="k" transform="translate(1071.9,795) rotate(90)">Tobias Cave 5</text>
<text class="k" transform="translate(1088.2,795) rotate(90)">Abrahamsdam</text>
<text class="k" transform="translate(1104.5,795) rotate(90)">Houdenbek</text>
<text class="k" transform="translate(1120.9,795) rotate(90)">Vaalbank</text>
<text class="k" transform="translate(1137.2,795) rotate(90)">Bushveld</text>
<text class="k" transform="translate(1153.5,795) rotate(90)">Morokasvlug</text>
<text class="k" transform="translate(1169.9,795) rotate(90)">Matjes River 2</text>
<text class="k" transform="translate(1186.2,795) rotate(90)">Springbokvlakte</text>
<text class="k" transform="translate(1202.5,795) rotate(90)">Matjes River 3</text>
<text class="k" transform="translate(1218.8,795) rotate(90)">Riet River</text>
<text class="k" transform="translate(1235.2,795) rotate(90)">Molenhoek</text>
<text class="k" transform="translate(1251.5,795) rotate(90)">Cape St Francis</text>
<text class="k" transform="translate(1267.8,795) rotate(90)">Gr. Brak River Cave</text>
<text class="k" transform="translate(1284.1,795) rotate(90)">Matjes River 11</text>
<text class="k" transform="translate(1300.5,795) rotate(90)">Matjes River 10</text>
<text class="k" transform="translate(1316.8,795) rotate(90)">Matjes River 1</text>
<text class="k" transform="translate(1333.1,795) rotate(90)">Matjes River 6</text>
<text class="k" transform="translate(1349.4,795) rotate(90)">Ballito Bay A</text>
<text class="k" transform="translate(1365.8,795) rotate(90)">Ballito Bay B</text>
<text class="k" transform="translate(1382.1,795) rotate(90)">Doonside</text>
<text class="k" transform="translate(1398.4,795) rotate(90)">St. Helena</text>
<text class="k" transform="translate(1414.7,795) rotate(90)">Faraoskop</text>
<text class="k" transform="translate(1455.6,795) rotate(90)">Stone-Age Malawi</text>
<text class="m" transform="translate(1582.4,795) rotate(90)">Biaka</text>
<text class="k" transform="translate(1695.2,795) rotate(90)">Stone-Age West Africa<tspan x="0" dy="17">(Shum Laka)</tspan></text>
<text class="m" transform="translate(1754.1,795) rotate(90)">Mbuti</text>
<text class="m" transform="translate(1897.2,795) rotate(90)">Yoruba</text>
<text class="k" transform="translate(1995.3,795) rotate(90)">Plovers Lake 2</text>
<text class="k" transform="translate(2011.6,795) rotate(90)">Champagne Castle</text>
<text class="k" transform="translate(2028,795) rotate(90)">Eland Cave</text>
<text class="k" transform="translate(2044.3,795) rotate(90)">Mfongosi</text>
<text class="k" transform="translate(2060.6,795) rotate(90)">NewCastle</text>
</g>
</svg>
</body></html>
